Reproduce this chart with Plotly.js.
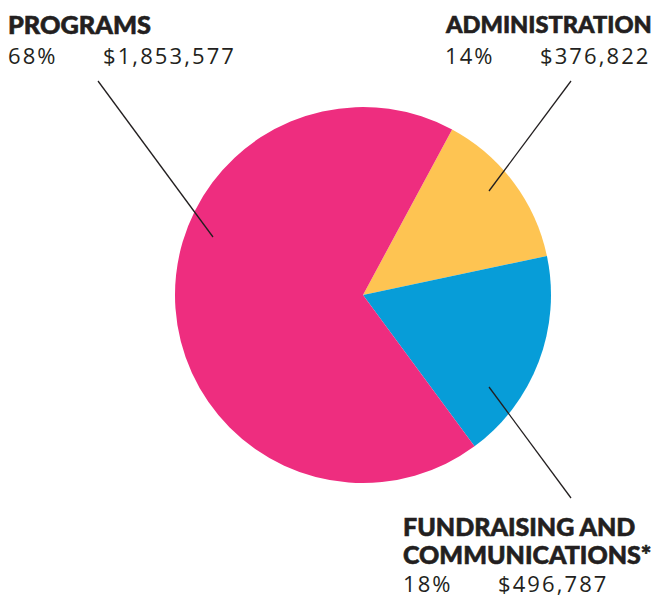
<!DOCTYPE html>
<html>
<head>
<meta charset="utf-8">
<script src="https://cdn.plot.ly/plotly-3.0.1.min.js"></script>
<style>html,body{margin:0;padding:0;background:#fff;}#chart{width:663px;height:598px;}</style>
</head>
<body>
<div id="chart"></div>
<script>
var categories = ["ADMINISTRATION", "FUNDRAISING AND<br>COMMUNICATIONS*", "PROGRAMS"];
var values = [376822, 496787, 1853577];
var percentLabels = ["14%", "18%", "68%"];
var amountLabels = ["$376,822", "$496,787", "$1,853,577"];
var colors = ["#FEC452", "#079DD8", "#EE2D7F"];

var W = 663, H = 598;
function px(x){ return x / W; }
function py(y){ return 1 - y / H; }

var cx = 363, cy = 295, r = 188;

var trace = {
  type: "pie",
  labels: categories,
  values: values,
  sort: false,
  direction: "clockwise",
  rotation: 28.3,
  textinfo: "none",
  hoverinfo: "label+value+percent",
  marker: {colors: colors, line: {width: 0}},
  showlegend: false,
  domain: {x: [px(cx - r), px(cx + r)], y: [py(cy + r), py(cy - r)]}
};

var ink = "#231F20";
var lineGap = 28;
var regFont = {family: "'Open Sans', Roboto, sans-serif", size: 22, color: ink, weight: 400};

function boldText(label, size){
  return label.split("<br>").map(function(s){
    return '<span style="font-size:' + size + 'px;stroke:' + ink + ';stroke-width:0.6px">' + s + '</span>';
  }).join("<br>");
}
function spaced(s){ return '<span style="letter-spacing:2.1px">' + s + '</span>'; }

var blocks = [
  {x: 7, size: 25.3, ty: 24, ax: 102, ny: 55, idx: 2},
  {x: 444, size: 23.6, ty: 24, ax: 539, ny: 55, idx: 0},
  {x: 402, size: 25.0, ty: 540, ax: 497, ny: 583, idx: 1}
];

var annotations = [];
blocks.forEach(function(b){
  var nLines = categories[b.idx].split("<br>").length;
  annotations.push({text: boldText(categories[b.idx], b.size), x: px(b.x), y: py(b.ty), xref: "paper", yref: "paper",
    xanchor: "left", yanchor: "middle", align: "left", showarrow: false, borderpad: 0,
    font: {family: "Lato, 'Open Sans', sans-serif", size: nLines > 1 ? lineGap / 1.3 : b.size, color: ink, weight: 900}});
  annotations.push({text: spaced(percentLabels[b.idx]), x: px(b.x), y: py(b.ny), xref: "paper", yref: "paper",
    xanchor: "left", yanchor: "middle", showarrow: false, font: regFont, borderpad: 0});
  annotations.push({text: spaced(amountLabels[b.idx]), x: px(b.ax), y: py(b.ny), xref: "paper", yref: "paper",
    xanchor: "left", yanchor: "middle", showarrow: false, font: regFont, borderpad: 0});
});

var leaderStyle = {color: ink, width: 1.3};
var shapes = [
  {type: "line", xref: "paper", yref: "paper", x0: px(98), y0: py(81), x1: px(213), y1: py(237), line: leaderStyle},
  {type: "line", xref: "paper", yref: "paper", x0: px(571), y0: py(81), x1: px(489), y1: py(191), line: leaderStyle},
  {type: "line", xref: "paper", yref: "paper", x0: px(489), y0: py(387), x1: px(571), y1: py(498), line: leaderStyle}
];

var layout = {
  width: W, height: H,
  margin: {l: 0, r: 0, t: 0, b: 0, pad: 0},
  paper_bgcolor: "#ffffff",
  plot_bgcolor: "#ffffff",
  annotations: annotations,
  shapes: shapes,
  showlegend: false
};

Plotly.newPlot("chart", [trace], layout, {displayModeBar: false, staticPlot: true});
</script>
</body>
</html>
